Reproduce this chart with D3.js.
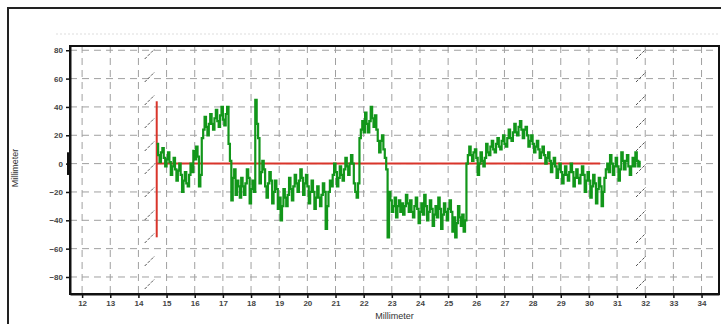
<!DOCTYPE html>
<html>
<head>
<meta charset="utf-8">
<script src="https://cdn.jsdelivr.net/npm/d3@7"></script>
<style>
  body { margin: 0; background: #fff; }
  svg { display: block; }
</style>
</head>
<body>
<div id="chart"></div>
<script>
// ---- data ----
const xTicks = d3.range(12, 35);            // 12 .. 34
const yTicks = [80, 60, 40, 20, 0, -20, -40, -60, -80];

// green profile, sampled every 0.05 mm starting at 14.65
const profileStart = 14.65;
const profileStep = 0.05;
const profileValues = [
  14, 6, 1, 8, 11, 4, -2, 3, 8, 1, -8, -2, 4, -4, -12, -5, 0, -8, -20, -12,
  -6, -14, -16, -8, 0, -6, 9, 3, 12, 5, -16, -8, 18, 24, 33, 26, 20, 28, 35, 28,
  24, 32, 38, 30, 26, 34, 40, 31, 27, 35, 40, 14, 2, -26, -10, -4, -22, -12, -16, -24,
  -10, -16, -22, -14, -4, -10, -28, -18, -12, -20, 45, 28, 18, -14, -6, 2, -4, -16, -24, -14,
  -6, -12, -28, -20, -12, -18, -32, -24, -40, -30, -18, -24, -30, -22, -10, -18, -26, -16, -8, -14,
  -20, -12, -4, -10, -22, -14, -8, -16, -28, -20, -12, -20, -32, -24, -16, -24, -30, -22, -14, -20,
  -46, -30, -20, -12, -16, -8, 0, -6, -16, -10, -2, -8, -12, -4, 4, -2, -8, 0, 6, 0,
  -14, -20, -24, -14, 18, 24, 30, 22, 36, 28, 22, 30, 40, 32, 26, 34, 24, 16, 8, 16,
  20, 10, 4, -4, -52, -20, -26, -34, -30, -24, -38, -30, -26, -34, -28, -36, -30, -22, -28, -34,
  -26, -34, -38, -30, -24, -32, -42, -34, -28, -36, -22, -30, -40, -34, -26, -32, -44, -36, -30, -38,
  -24, -32, -46, -36, -28, -34, -40, -32, -26, -34, -48, -38, -52, -42, -30, -38, -44, -36, -48, -40,
  0, 6, 12, 6, 2, 8, 10, 4, -8, 0, 8, 2, -2, 4, 14, 8, 6, 12, 16, 10,
  8, 14, 18, 12, 10, 16, 20, 14, 12, 18, 24, 18, 16, 22, 28, 22, 20, 26, 30, 24,
  18, 24, 26, 20, 12, 16, 20, 14, 8, 12, 16, 10, 4, 8, 12, 6, 0, 4, 8, 2,
  -6, 0, 4, -2, -10, -4, 0, -6, -14, -8, -2, -8, -12, -6, 0, -6, -16, -10, -4, -10,
  -14, -8, -2, -8, -20, -12, -6, -12, -24, -16, -8, -14, -28, -18, -10, -16, -30, -20, -10, -4,
  0, -6, 6, 0, -8, -2, 4, -2, -12, -4, 8, 2, -4, 2, 6, -2, -8, -2, 4, -2,
  8, 2, -2, 2
];

// red reference lines
const refVertical = [[14.65, 44], [14.65, -52]];
const refHorizontal = [[14.65, 0], [30.4, 0]];

// break markers (x positions of the dashed slanted lines)
const breakPositions = [14.4, 31.85];

// ---- layout ----
const WIDTH = 721, HEIGHT = 324;
const PLOT = {left: 70, right: 719, top: 46, bottom: 294};

const svg = d3.select('#chart').append('svg')
  .attr('width', WIDTH)
  .attr('height', HEIGHT);

const x = d3.scaleLinear().domain([11.57, 34.62]).range([PLOT.left, PLOT.right]);
const y = d3.scaleLinear().domain([-92, 83]).range([PLOT.bottom, PLOT.top]);

// outer frame
svg.append('rect')
  .attr('x', 8).attr('y', 8)
  .attr('width', WIDTH + 20).attr('height', HEIGHT + 20)
  .attr('fill', 'none')
  .attr('stroke', '#222')
  .attr('stroke-width', 2);

// faint line above the plot
svg.append('line')
  .attr('x1', 56).attr('x2', PLOT.right)
  .attr('y1', 34).attr('y2', 34)
  .attr('stroke', '#ddd')
  .attr('stroke-dasharray', '2,2');

// grid
const grid = svg.append('g').attr('class', 'grid');
grid.selectAll('.vgrid')
  .data(xTicks)
  .enter().append('line')
  .attr('class', 'vgrid')
  .attr('x1', d => x(d)).attr('x2', d => x(d))
  .attr('y1', PLOT.top).attr('y2', PLOT.bottom)
  .attr('stroke', '#a0a0a0')
  .attr('stroke-dasharray', '7,5');
grid.selectAll('.hgrid')
  .data(yTicks)
  .enter().append('line')
  .attr('class', 'hgrid')
  .attr('x1', PLOT.left).attr('x2', PLOT.right)
  .attr('y1', d => y(d)).attr('y2', d => y(d))
  .attr('stroke', '#a0a0a0')
  .attr('stroke-dasharray', '7,5');

// break markers: short slanted dashes down the plot
const breaks = svg.append('g').attr('class', 'breaks');
breakPositions.forEach(function (b) {
  const bx = x(b);
  d3.range(PLOT.top + 8, PLOT.bottom, 23).forEach(function (py) {
    breaks.append('line')
      .attr('x1', bx - 5).attr('y1', py + 5)
      .attr('x2', bx + 5).attr('y2', py - 5)
      .attr('stroke', '#555')
      .attr('stroke-width', 1)
      .attr('stroke-dasharray', '3,1.5');
  });
});

// red reference
const refLine = d3.line().x(d => x(d[0])).y(d => y(d[1]));
[refVertical, refHorizontal].forEach(function (pts) {
  svg.append('path')
    .attr('d', refLine(pts))
    .attr('fill', 'none')
    .attr('stroke', '#d9352b')
    .attr('stroke-width', 2);
});

// green profile
const profile = profileValues.map((v, i) => [profileStart + i * profileStep, v]);
svg.append('path')
  .datum(profile)
  .attr('d', d3.line().x(d => x(d[0])).y(d => y(d[1])).curve(d3.curveStepAfter))
  .attr('fill', 'none')
  .attr('stroke', '#12961a')
  .attr('stroke-width', 2.2);

// plot frame
svg.append('rect')
  .attr('x', PLOT.left).attr('y', PLOT.top)
  .attr('width', PLOT.right - PLOT.left).attr('height', PLOT.bottom - PLOT.top)
  .attr('fill', 'none')
  .attr('stroke', '#111')
  .attr('stroke-width', 2);

// axes
const xAxis = d3.axisBottom(x).tickValues(xTicks).tickSize(4).tickSizeOuter(0);
const yAxis = d3.axisLeft(y).tickValues(yTicks).tickSize(4).tickSizeOuter(0);

const gx = svg.append('g')
  .attr('class', 'axis')
  .attr('transform', 'translate(0,' + PLOT.bottom + ')')
  .call(xAxis);
const gy = svg.append('g')
  .attr('class', 'axis')
  .attr('transform', 'translate(' + PLOT.left + ',0)')
  .call(yAxis);

[gx, gy].forEach(function (g) {
  g.select('.domain').attr('stroke', '#111').attr('stroke-width', 2);
  g.selectAll('.tick line').attr('stroke', '#111').attr('stroke-width', 1.5);
  g.selectAll('.tick text')
    .style('font-family', 'Liberation Sans, Arial, sans-serif')
    .style('font-size', '8px')
    .style('font-weight', 'bold')
    .style('fill', '#444');
});
gx.selectAll('.tick text').attr('dy', '0.6em');

// thick zero mark on the y axis
svg.append('rect')
  .attr('x', PLOT.left - 3).attr('y', y(8))
  .attr('width', 3).attr('height', y(-8) - y(8))
  .attr('fill', '#111');

// axis titles
svg.append('text')
  .attr('x', (PLOT.left + PLOT.right) / 2)
  .attr('y', 319)
  .style('font-family', 'Liberation Sans, Arial, sans-serif')
  .style('font-size', '9px')
  .style('fill', '#333')
  .style('text-anchor', 'middle')
  .text('Millimeter');

svg.append('text')
  .attr('transform', 'translate(18,' + 168 + ') rotate(-90)')
  .style('font-family', 'Liberation Sans, Arial, sans-serif')
  .style('font-size', '9px')
  .style('fill', '#333')
  .style('text-anchor', 'middle')
  .text('Millimeter');
</script>
</body>
</html>
